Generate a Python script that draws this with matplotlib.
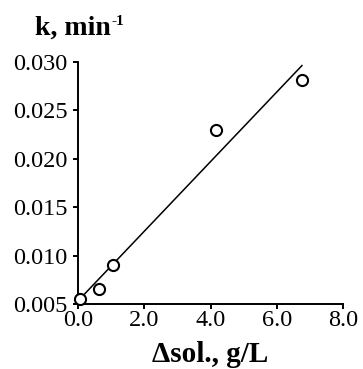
import numpy as np
import matplotlib
matplotlib.use("Agg")
import matplotlib.pyplot as plt

# Solubility change (g/L) and rate constant k (1/min)
delta_sol = [0.06, 0.63, 1.05, 4.18, 6.76]
k_values = [0.0055, 0.0066, 0.0090, 0.0230, 0.0281]
x_ticks = [0.0, 2.0, 4.0, 6.0, 8.0]
y_ticks = [0.005, 0.010, 0.015, 0.020, 0.025, 0.030]

plt.rcParams['font.family'] = ['Liberation Serif', 'DejaVu Serif']

W, H = 363, 369
fig = plt.figure(figsize=(W / 100, H / 100), dpi=100)
ax = fig.add_axes([78 / W, 1 - 304 / H, (343 - 78) / W, (304 - 62) / H])

# Linear fit through the measurements
slope, intercept = np.polyfit(delta_sol, k_values, 1)
xf = np.array([0.0, max(delta_sol)])
ax.plot(xf, slope * xf + intercept, color='black', lw=1.1, zorder=2)

ax.plot(delta_sol, k_values, 'o', mfc='white', mec='black', mew=1.5,
        ms=8, zorder=3, clip_on=False)

ax.set_xlim(0, 8)
ax.set_ylim(0.005, 0.030)
ax.set_xticks(x_ticks)
ax.set_xticklabels([f"{v:.1f}" for v in x_ticks])
ax.set_yticks(y_ticks)
ax.set_yticklabels([f"{v:.3f}" for v in y_ticks])

for s in ['top', 'right']:
    ax.spines[s].set_visible(False)
for s in ['left', 'bottom']:
    ax.spines[s].set_linewidth(1.4)

ax.tick_params(axis='both', direction='out', length=3.5, width=1.4,
               labelsize=17.5, color='black')
ax.tick_params(axis='x', pad=0.5)
ax.tick_params(axis='y', pad=4)

# Axis titles
fig.text(210 / W, 1 - 362 / H, 'Δsol., g/L', fontsize=21,
         fontweight='bold', ha='center', va='baseline')
ktxt = fig.text(35 / W, 1 - 35 / H, 'k, min', fontsize=20,
                fontweight='bold', ha='left', va='baseline')
renderer = fig.canvas.get_renderer()
bb = ktxt.get_window_extent(renderer)
fig.text(bb.x1 / (W) + 0.5 / W, 1 - 25 / H, '-1', fontsize=11,
         fontweight='bold', ha='left', va='baseline')

fig.savefig('out.png', dpi=100)
